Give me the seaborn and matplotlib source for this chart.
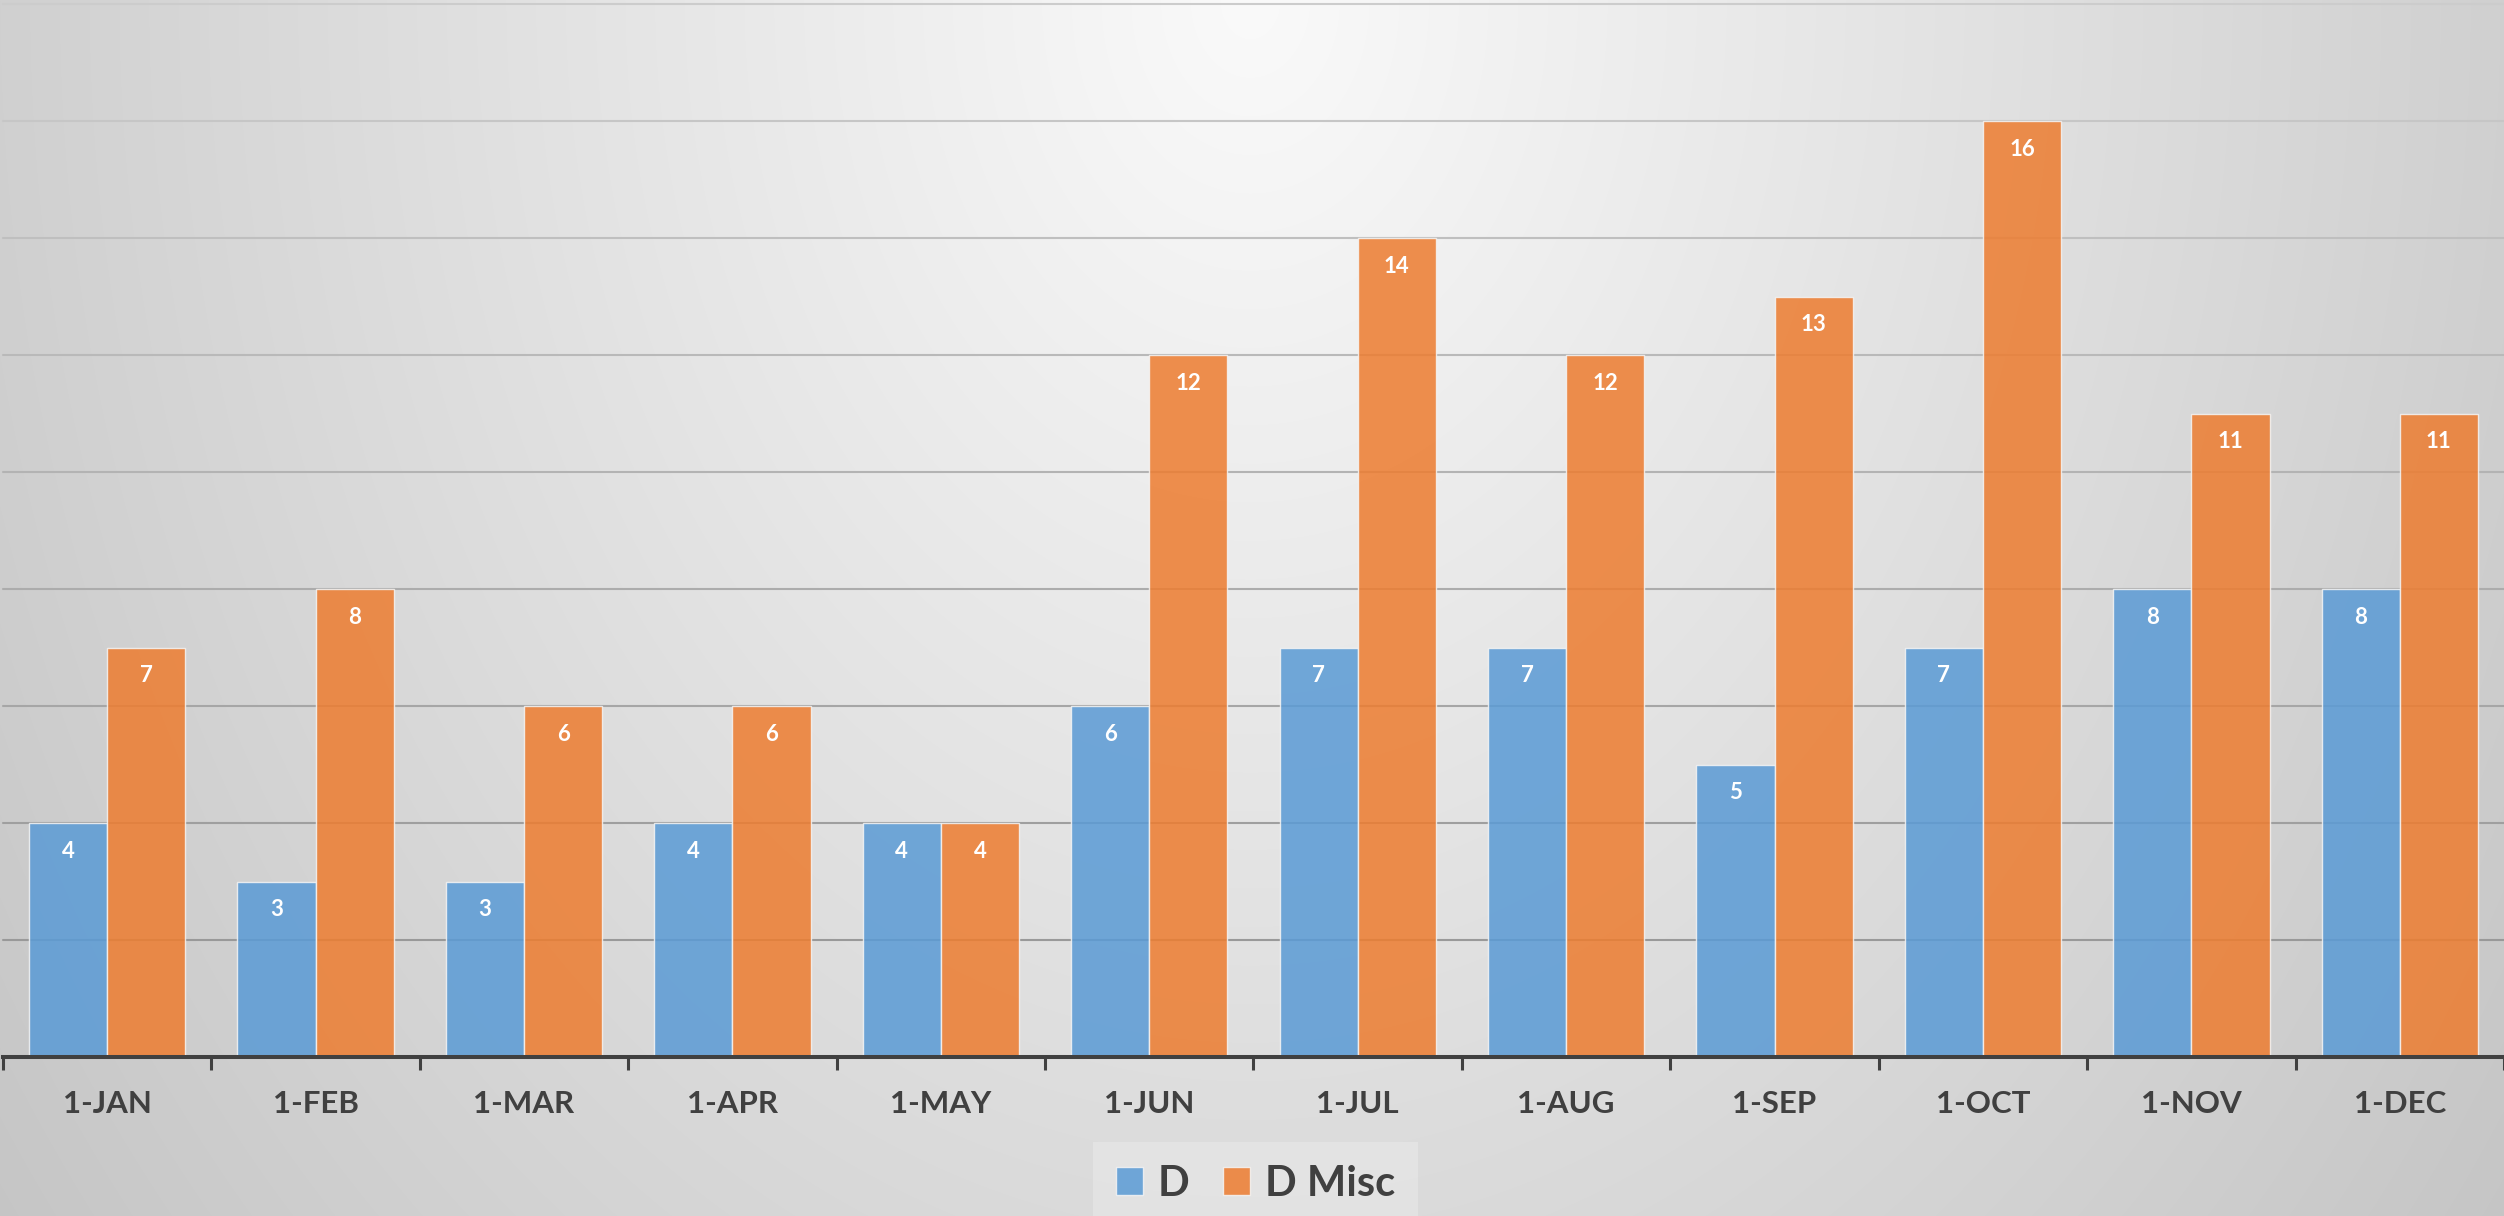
import numpy as np
import pandas as pd
import matplotlib
matplotlib.use("Agg")
import matplotlib.pyplot as plt
from matplotlib.patches import Patch
import seaborn as sns

# Monthly counts for the two series
months = ["1-JAN", "1-FEB", "1-MAR", "1-APR", "1-MAY", "1-JUN",
          "1-JUL", "1-AUG", "1-SEP", "1-OCT", "1-NOV", "1-DEC"]
d_values = [4, 3, 3, 4, 4, 6, 7, 7, 5, 7, 8, 8]
d_misc_values = [7, 8, 6, 6, 4, 12, 14, 12, 13, 16, 11, 11]
series_names = ["D", "D Misc"]

df = pd.DataFrame({
    "month": months * 2,
    "series": [series_names[0]] * len(months) + [series_names[1]] * len(months),
    "value": d_values + d_misc_values,
})

W, H, DPI = 2504, 1216, 100
sns.set_theme(style="white")
plt.rcParams["font.family"] = ["Lato", "DejaVu Sans"]
plt.rcParams["font.weight"] = "bold"

fig = plt.figure(figsize=(W / DPI, H / DPI), dpi=DPI)

# Soft radial background, brightest at the top centre
bg = fig.add_axes([0, 0, 1, 1], zorder=-10)
yy, xx = np.mgrid[0:H, 0:W]
dist = np.sqrt((42 * (xx - 1250) / 1250) ** 2 + (31.5 * yy / 1216) ** 2)
shade = np.clip(250 - dist, 0, 255) / 255.0
bg.imshow(np.dstack([shade] * 3), aspect="auto", extent=[0, 1, 0, 1],
          interpolation="bilinear")
bg.set_axis_off()

ax = fig.add_axes([3 / W, 1 - 1057 / H, 1 - 3 / W, (1057 - 4) / H])
ax.set_facecolor("none")

blue = "#5B9BD5"
orange = "#ED7D31"
sns.barplot(data=df, x="month", y="value", hue="series", palette=[blue, orange],
            width=0.75, saturation=1, alpha=0.86, edgecolor="#f4f4f4",
            linewidth=1.0, ax=ax, zorder=3, legend=False)

ax.set_ylim(0, 18)
ax.set_xlim(-0.5, len(months) - 0.5)

# Horizontal gridlines, fading slightly toward the top
grid_levels = np.arange(2, 19, 2)
for i, g in enumerate(grid_levels):
    t = i / (len(grid_levels) - 1)
    c = (0.60 + 0.20 * t,) * 3
    ax.axhline(g, color=c, linewidth=1.5, zorder=1, clip_on=False)

for s in ["top", "right", "left"]:
    ax.spines[s].set_visible(False)
ax.spines["bottom"].set_color("#404040")
ax.spines["bottom"].set_linewidth(2.9)
ax.spines["bottom"].set_zorder(5)

ax.set_yticks([])
ax.set_xlabel("")
ax.set_ylabel("")
ax.set_xticks(range(len(months)))
ax.set_xticklabels(months, fontsize=22.5, fontweight="bold", color="#404040")
ax.set_xticks(np.arange(-0.5, len(months), 1.0), minor=True)
ax.tick_params(axis="x", which="minor", bottom=True, length=9.5, width=2.2,
               color="#404040", direction="out")
ax.tick_params(axis="x", which="major", bottom=True, length=0, pad=24)

# Value labels just inside the top of each bar
for cont in ax.containers:
    for patch in cont:
        h = patch.get_height()
        x = patch.get_x() + patch.get_width() / 2
        ax.annotate(f"{int(round(h))}", (x, h), xytext=(0, -20.5),
                    textcoords="offset points", ha="center", va="center",
                    fontsize=16, fontweight="bold", color="white", zorder=6)

handles = [Patch(facecolor=blue, alpha=0.86, edgecolor="#f4f4f4", linewidth=1.0),
           Patch(facecolor=orange, alpha=0.86, edgecolor="#f4f4f4", linewidth=1.0)]
leg = fig.legend(handles, series_names, loc="upper center",
                 bbox_to_anchor=(1255.5 / W, 1 - 1142 / H), ncol=2,
                 fontsize=30, frameon=True, fancybox=False,
                 handlelength=0.65, handleheight=0.65, handletextpad=0.35,
                 columnspacing=0.8, borderpad=0.55, borderaxespad=0)
leg.get_frame().set_facecolor("#e4e4e4")
leg.get_frame().set_edgecolor("none")
leg.get_frame().set_alpha(0.9)
for txt in leg.get_texts():
    txt.set_color("#404040")
    txt.set_fontweight("bold")

fig.savefig("out.png", dpi=DPI)
